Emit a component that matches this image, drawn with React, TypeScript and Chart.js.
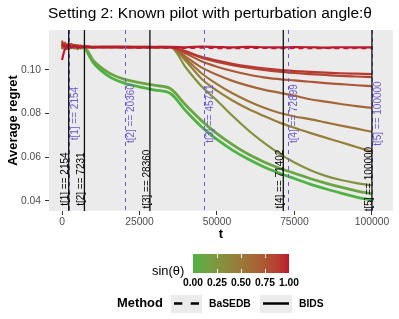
import React, { useEffect, useRef } from "react";
import { Chart, registerables } from "chart.js";

Chart.register(...registerables);

// ---------- data ----------
const T = [0, 500, 1000, 1500, 2154, 3000, 4000, 5000, 6000, 7231, 10000, 15000, 20000, 25000, 30000, 35000, 40000, 45000, 50000, 55000, 60000, 65000, 70000, 75000, 80000, 85000, 90000, 95000, 100000];

const BASEDB_S100 = [0.1120, 0.1108, 0.1115, 0.1100, 0.1112, 0.1106, 0.1110, 0.1103, 0.1108, 0.1105, 0.1103, 0.1104, 0.1103, 0.1102, 0.1103, 0.1101, 0.1100, 0.1102, 0.1100, 0.1099, 0.1100, 0.1101, 0.1099, 0.1100, 0.1099, 0.1100, 0.1099, 0.1100, 0.1099];
const BIDS_S100 = [0.1046, 0.1075, 0.1098, 0.1112, 0.1108, 0.1104, 0.1110, 0.1106, 0.1103, 0.1107, 0.1104, 0.1105, 0.1106, 0.1104, 0.1105, 0.1106, 0.1104, 0.1107, 0.1105, 0.1103, 0.1106, 0.1104, 0.1103, 0.1105, 0.1104, 0.1102, 0.1104, 0.1103, 0.1103];
const BIDS_S090 = [0.1128, 0.1115, 0.1102, 0.1110, 0.1118, 0.1106, 0.1112, 0.1100, 0.1109, 0.1106, 0.1105, 0.1106, 0.1104, 0.1105, 0.1106, 0.1105, 0.1085, 0.1060, 0.1043, 0.1028, 0.1016, 0.1007, 0.1000, 0.0995, 0.0991, 0.0988, 0.0985, 0.0983, 0.0981];
const BIDS_S085 = [0.1110, 0.1122, 0.1108, 0.1096, 0.1112, 0.1117, 0.1104, 0.1110, 0.1102, 0.1108, 0.1106, 0.1104, 0.1105, 0.1106, 0.1104, 0.1105, 0.1082, 0.1056, 0.1037, 0.1022, 0.1010, 0.1000, 0.0992, 0.0986, 0.0981, 0.0977, 0.0973, 0.0970, 0.0967];
const BIDS_S075 = [0.1100, 0.1112, 0.1125, 0.1105, 0.1098, 0.1110, 0.1115, 0.1107, 0.1112, 0.1104, 0.1105, 0.1106, 0.1104, 0.1105, 0.1105, 0.1104, 0.1075, 0.1040, 0.1015, 0.0995, 0.0979, 0.0966, 0.0958, 0.0952, 0.0946, 0.0940, 0.0935, 0.0930, 0.0926];
const BIDS_S065 = [0.1135, 0.1104, 0.1098, 0.1118, 0.1106, 0.1100, 0.1108, 0.1113, 0.1104, 0.1109, 0.1104, 0.1105, 0.1106, 0.1104, 0.1105, 0.1105, 0.1060, 0.1012, 0.0978, 0.0950, 0.0928, 0.0910, 0.0896, 0.0882, 0.0866, 0.0855, 0.0844, 0.0834, 0.0826];
const BIDS_S055 = [0.1095, 0.1118, 0.1110, 0.1102, 0.1115, 0.1108, 0.1099, 0.1111, 0.1106, 0.1103, 0.1106, 0.1105, 0.1104, 0.1106, 0.1105, 0.1104, 0.1050, 0.0985, 0.0935, 0.0893, 0.0858, 0.0828, 0.0804, 0.0787, 0.0775, 0.0760, 0.0745, 0.0731, 0.0717];
const BIDS_S045 = [0.1112, 0.1100, 0.1116, 0.1108, 0.1097, 0.1112, 0.1106, 0.1102, 0.1110, 0.1105, 0.1105, 0.1104, 0.1106, 0.1105, 0.1104, 0.1105, 0.1040, 0.0960, 0.0905, 0.0860, 0.0822, 0.0790, 0.0760, 0.0735, 0.0712, 0.0690, 0.0669, 0.0647, 0.0626];
const BIDS_S030 = [0.1102, 0.1120, 0.1106, 0.1113, 0.1101, 0.1109, 0.1103, 0.1114, 0.1107, 0.1104, 0.1105, 0.1106, 0.1105, 0.1104, 0.1105, 0.1105, 0.1010, 0.0925, 0.0860, 0.0790, 0.0725, 0.0668, 0.0618, 0.0576, 0.0542, 0.0515, 0.0496, 0.0482, 0.0472];
const BIDS_S010 = [0.1108, 0.1115, 0.1100, 0.1112, 0.1106, 0.1118, 0.1104, 0.1110, 0.1100, 0.1102, 0.1045, 0.0988, 0.0958, 0.0942, 0.0929, 0.0914, 0.0838, 0.0768, 0.0708, 0.0658, 0.0615, 0.0580, 0.0551, 0.0527, 0.0503, 0.0482, 0.0463, 0.0446, 0.0432];
const BIDS_S000 = [0.1116, 0.1104, 0.1120, 0.1098, 0.1111, 0.1102, 0.1109, 0.1097, 0.1106, 0.1100, 0.1035, 0.0972, 0.0940, 0.0923, 0.0908, 0.0892, 0.0812, 0.0740, 0.0682, 0.0633, 0.0592, 0.0557, 0.0528, 0.0503, 0.0477, 0.0456, 0.0436, 0.0418, 0.0403];

const SIN_VALUES = [1, 1, 0.9, 0.85, 0.75, 0.65, 0.55, 0.45, 0.3, 0.12, 0];
const METHODS = ["BaSEDB", "BIDS", "BIDS", "BIDS", "BIDS", "BIDS", "BIDS", "BIDS", "BIDS", "BIDS", "BIDS"];
const SERIES_VALUES = [BASEDB_S100, BIDS_S100, BIDS_S090, BIDS_S085, BIDS_S075, BIDS_S065, BIDS_S055, BIDS_S045, BIDS_S030, BIDS_S010, BIDS_S000];

const BIDS_STOPS = [2154, 7231, 28360, 71402, 100000];
const BASEDB_STOPS = [2154, 20360, 45711, 72899, 100000];
const BIDS_LABEL_Y = 0.05;
const BASEDB_LABEL_Y = 0.08;

const X_TICKS = [0, 25000, 50000, 75000, 100000];
const Y_TICKS = [0.04, 0.06, 0.08, 0.1];
const Y_TICK_LABELS = ["0.04", "0.06", "0.08", "0.10"];
const BAR_TICKS = [0, 0.25, 0.5, 0.75, 1];
const BAR_LABELS = ["0.00", "0.25", "0.50", "0.75", "1.00"];

const TITLE = "Setting 2: Known pilot with perturbation angle:θ";

// ---------- colour helpers (Lab interpolation like ggplot) ----------
const LOW: number[] = [78, 178, 68];
const HIGH: number[] = [188, 26, 46];
function toLin(c: number) { c /= 255; return c <= 0.04045 ? c / 12.92 : Math.pow((c + 0.055) / 1.055, 2.4); }
function fromLin(c: number) { const v = c <= 0.0031308 ? 12.92 * c : 1.055 * Math.pow(c, 1 / 2.4) - 0.055; return Math.round(Math.max(0, Math.min(1, v)) * 255); }
function rgbToLab(rgb: number[]) {
  const R = toLin(rgb[0]), G = toLin(rgb[1]), B = toLin(rgb[2]);
  const X = (0.4124 * R + 0.3576 * G + 0.1805 * B) / 0.95047;
  const Y = 0.2126 * R + 0.7152 * G + 0.0722 * B;
  const Z = (0.0193 * R + 0.1192 * G + 0.9505 * B) / 1.08883;
  const f = (t: number) => (t > 0.008856 ? Math.cbrt(t) : 7.787 * t + 16 / 116);
  return [116 * f(Y) - 16, 500 * (f(X) - f(Y)), 200 * (f(Y) - f(Z))];
}
function labToRgb(lab: number[]) {
  const fy = (lab[0] + 16) / 116, fx = fy + lab[1] / 500, fz = fy - lab[2] / 200;
  const inv = (t: number) => (t * t * t > 0.008856 ? t * t * t : (t - 16 / 116) / 7.787);
  const X = inv(fx) * 0.95047, Y = inv(fy), Z = inv(fz) * 1.08883;
  const R = 3.2406 * X - 1.5372 * Y - 0.4986 * Z;
  const G = -0.9689 * X + 1.8758 * Y + 0.0415 * Z;
  const B = 0.0557 * X - 0.204 * Y + 1.057 * Z;
  return [fromLin(R), fromLin(G), fromLin(B)];
}
function colorAt(s: number) {
  const a = rgbToLab(LOW), b = rgbToLab(HIGH);
  const c = labToRgb(a.map((v, i) => v + (b[i] - v) * s));
  return `rgb(${c[0]},${c[1]},${c[2]})`;
}

const FONT = "'Liberation Sans', Arial, sans-serif";

const decoPlugin = {
  id: "deco",
  beforeDraw(chart: any) {
    const { ctx, chartArea } = chart;
    ctx.save();
    ctx.fillStyle = "#ffffff";
    ctx.fillRect(0, 0, chart.width, chart.height);
    ctx.fillStyle = "#EBEBEB";
    ctx.fillRect(chartArea.left, chartArea.top, chartArea.right - chartArea.left, chartArea.bottom - chartArea.top);
    ctx.restore();
  },
  afterDatasetsDraw(chart: any) {
    const { ctx, chartArea, scales } = chart;
    const xs = scales.x, ys = scales.y;
    ctx.save();
    ctx.beginPath();
    ctx.rect(chartArea.left, chartArea.top, chartArea.right - chartArea.left, chartArea.bottom - chartArea.top);
    ctx.clip();
    // dashed BaSEDB lines
    ctx.strokeStyle = "#6A5ACD";
    ctx.lineWidth = 1;
    ctx.setLineDash([4, 4]);
    BASEDB_STOPS.forEach((v) => {
      const x = Math.round(xs.getPixelForValue(v)) + 0.5;
      ctx.beginPath(); ctx.moveTo(x, chartArea.top); ctx.lineTo(x, chartArea.bottom); ctx.stroke();
    });
    ctx.setLineDash([]);
    ctx.strokeStyle = "#111111";
    ctx.lineWidth = 1.3;
    BIDS_STOPS.forEach((v) => {
      const x = xs.getPixelForValue(v);
      ctx.beginPath(); ctx.moveTo(x, chartArea.top); ctx.lineTo(x, chartArea.bottom); ctx.stroke();
    });
    // labels
    ctx.font = `10px ${FONT}`;
    ctx.textAlign = "center";
    ctx.textBaseline = "alphabetic";
    BIDS_STOPS.forEach((v, i) => {
      const x = xs.getPixelForValue(v), y = ys.getPixelForValue(BIDS_LABEL_Y);
      ctx.save(); ctx.translate(x - 0.3, y); ctx.rotate(-Math.PI / 2);
      ctx.fillStyle = "#000000"; ctx.fillText(`t[${i + 1}] == ${v}`, 0, 0); ctx.restore();
    });
    BASEDB_STOPS.forEach((v, i) => {
      const x = xs.getPixelForValue(v), y = ys.getPixelForValue(BASEDB_LABEL_Y);
      ctx.save(); ctx.translate(x + 9.2, y); ctx.rotate(-Math.PI / 2);
      ctx.fillStyle = "#6A5ACD"; ctx.fillText(`t[${i + 1}] == ${v}`, 0, 0); ctx.restore();
    });
    ctx.restore();
  },
  afterDraw(chart: any) {
    const { ctx, chartArea } = chart;
    ctx.save();
    // title
    ctx.fillStyle = "#000000";
    ctx.font = `15.5px ${FONT}`;
    ctx.textAlign = "left";
    ctx.textBaseline = "alphabetic";
    ctx.fillText(TITLE, chartArea.left - 1, 18);
    // axis titles
    ctx.font = `bold 12.9px ${FONT}`;
    ctx.textAlign = "center";
    ctx.fillText("t", (chartArea.left + chartArea.right) / 2, 238);
    ctx.save();
    ctx.translate(16.5, (chartArea.top + chartArea.bottom) / 2);
    ctx.rotate(-Math.PI / 2);
    ctx.fillText("Average regret", 0, 0);
    ctx.restore();
    // colour bar legend
    const bx = 193, by = 254, bw = 96, bh = 19;
    const grad = ctx.createLinearGradient(bx, 0, bx + bw, 0);
    for (let k = 0; k <= 20; k++) grad.addColorStop(k / 20, colorAt(k / 20));
    ctx.fillStyle = grad;
    ctx.fillRect(bx, by, bw, bh);
    ctx.strokeStyle = "#ffffff";
    ctx.lineWidth = 1;
    BAR_TICKS.forEach((v) => {
      if (v === 0 || v === 1) return;
      const x = Math.round(bx + v * bw) + 0.5;
      ctx.beginPath(); ctx.moveTo(x, by); ctx.lineTo(x, by + 4); ctx.stroke();
      ctx.beginPath(); ctx.moveTo(x, by + bh - 4); ctx.lineTo(x, by + bh); ctx.stroke();
    });
    ctx.fillStyle = "#000000";
    ctx.font = `12.9px ${FONT}`;
    ctx.textAlign = "left";
    ctx.fillText("sin(θ)", 152, 275);
    ctx.font = `bold 10.3px ${FONT}`;
    ctx.textAlign = "center";
    BAR_TICKS.forEach((v, i) => ctx.fillText(BAR_LABELS[i], bx + v * bw, 286));
    // method legend
    ctx.textAlign = "left";
    ctx.font = `bold 12.9px ${FONT}`;
    ctx.fillText("Method", 117, 307);
    ctx.fillStyle = "#EBEBEB";
    ctx.fillRect(171, 295, 31, 18);
    ctx.fillRect(260, 295, 32, 18);
    ctx.strokeStyle = "#000000";
    ctx.lineWidth = 2.5;
    ctx.setLineDash([8.3, 8.4]);
    ctx.beginPath(); ctx.moveTo(174, 303.5); ctx.lineTo(199.5, 303.5); ctx.stroke();
    ctx.setLineDash([]);
    ctx.beginPath(); ctx.moveTo(263, 303.5); ctx.lineTo(289, 303.5); ctx.stroke();
    ctx.fillStyle = "#000000";
    ctx.font = `bold 10.3px ${FONT}`;
    ctx.fillText("BaSEDB", 209, 307);
    ctx.fillText("BIDS", 299, 307);
    ctx.restore();
  },
};

export default function App() {
  const ref = useRef<HTMLCanvasElement | null>(null);
  useEffect(() => {
    document.body.style.margin = "0";
    const canvas = ref.current!;
    const datasets = SERIES_VALUES.map((vals, si) => {
      const isGreen = SIN_VALUES[si] <= 0.15;
      return {
        label: `${METHODS[si]} ${SIN_VALUES[si]}`,
        data: T.map((t, i) => ({ x: t, y: vals[i] })),
        borderColor: colorAt(SIN_VALUES[si]),
        borderWidth: isGreen ? 2.8 : METHODS[si] === "BaSEDB" ? 2 : 2.2,
        borderDash: METHODS[si] === "BaSEDB" ? [5, 4] : [],
        pointRadius: 0,
        cubicInterpolationMode: "monotone" as const,
        fill: false,
      };
    });
    const chart = new Chart(canvas, {
      type: "line",
      data: { datasets },
      options: {
        responsive: false,
        animation: false,
        devicePixelRatio: 1,
        layout: { padding: { top: 30, right: 6, left: 0, bottom: 0 } },
        plugins: { legend: { display: false }, tooltip: { enabled: false }, title: { display: false } },
        scales: {
          x: {
            type: "linear",
            min: -4200,
            max: 106800,
            afterBuildTicks: (sc: any) => { sc.ticks = X_TICKS.map((v) => ({ value: v })); },
            afterFit: (sc: any) => { sc.height = 108; },
            border: { display: false },
            grid: { drawOnChartArea: false, drawTicks: true, tickLength: 4, color: "#333333", lineWidth: 1 },
            ticks: {
              autoSkip: false, maxRotation: 0, padding: 1, color: "#4D4D4D",
              font: { family: FONT, size: 10.3 },
              callback: (v: any) => String(v),
            },
          },
          y: {
            type: "linear",
            min: 0.0354,
            max: 0.1183,
            afterBuildTicks: (sc: any) => { sc.ticks = Y_TICKS.map((v) => ({ value: v })); },
            afterFit: (sc: any) => { sc.width = 49; },
            border: { display: false },
            grid: { drawOnChartArea: false, drawTicks: true, tickLength: 4, color: "#333333", lineWidth: 1 },
            ticks: {
              autoSkip: false, padding: 4, color: "#4D4D4D",
              font: { family: FONT, size: 10.3 },
              callback: (v: any) => { const k = Y_TICKS.findIndex((t) => Math.abs(t - v) < 1e-9); return k >= 0 ? Y_TICK_LABELS[k] : ""; },
            },
          },
        },
      } as any,
      plugins: [decoPlugin],
    });
    return () => chart.destroy();
  }, []);
  return (
    <div style={{ width: 399, height: 319 }}>
      <canvas ref={ref} width={399} height={319} style={{ display: "block", width: 399, height: 319 }} />
    </div>
  );
}
